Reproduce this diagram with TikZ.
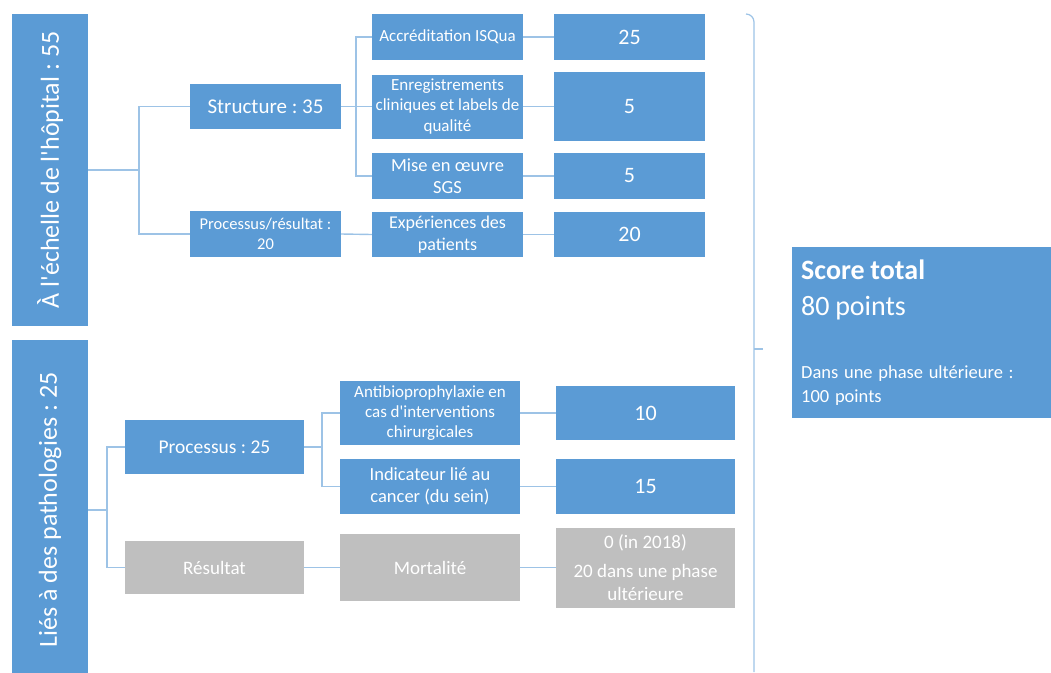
\documentclass[tikz,border=0pt]{standalone}
\usepackage{fontspec}
\setmainfont{Carlito}
\frenchspacing
\definecolor{bluebox}{HTML}{5B9BD5}
\definecolor{graybox}{HTML}{BFBFBF}
\definecolor{connc}{HTML}{9DC3E6}
\newcommand{\fs}[1]{\fontsize{#1}{1.2\dimexpr#1pt\relax}\selectfont}
\newcommand{\apo}{\textquotesingle}
\tikzset{
  box/.style={rectangle, fill=bluebox, text=white, align=center, inner sep=1pt, font=\fs{17}},
  graybx/.style={box, fill=graybox},
  conn/.style={draw=connc, line width=1.4pt},
  numbox/.style={box, font=\fs{22}, minimum width=151pt},
  catbox/.style={box, minimum width=151pt},
}
\begin{document}
\begin{tikzpicture}[x=1pt,y=-1pt]
\useasboundingbox (0,0) rectangle (1051,672);
% left category boxes
\node[box, rotate=90, minimum width=312pt, minimum height=76pt, font=\fs{26}] (L1) at (50,170) {À l\apo échelle de l\apo hôpital : 55};
\node[box, rotate=90, minimum width=340pt, minimum height=76pt, font=\fs{26}] (L2) at (50,510) {Liés à des pathologies : 25};
% level 2 (top)
\node[box, minimum width=151pt, minimum height=45pt, font=\fs{21}] (struct) at (265.5,106.5) {Structure : 35};
\node[box, minimum width=151pt, minimum height=46pt, font=\fs{16.5}] (pr) at (265.5,234) {Processus/résultat :\\20};
% level 3 (top)
\node[catbox, minimum height=46pt] (accr) at (447.5,37) {Accréditation ISQua};
\node[catbox, minimum height=64pt] (enr) at (447.5,106.5) {Enregistrements\\cliniques et labels de\\qualité};
\node[catbox, minimum height=46pt, font=\fs{18.5}] (mise) at (447.5,176) {Mise en œuvre\\SGS};
\node[catbox, minimum height=45pt, font=\fs{18}] (exp) at (447.5,234.5) {Expériences des\\patients};
% values (top)
\node[numbox, minimum height=46pt] (v25) at (629.5,37) {25};
\node[numbox, minimum height=69pt] (v5a) at (629.5,106.5) {5};
\node[numbox, minimum height=46pt] (v5b) at (629.5,176) {5};
\node[numbox, minimum height=45pt] (v20) at (629.5,234.5) {20};
% level 2 (bottom)
\node[box, minimum width=179pt, minimum height=54pt, font=\fs{19.5}] (proc) at (214.5,447) {Processus : 25};
\node[graybx, minimum width=179pt, minimum height=53pt, font=\fs{19}] (res) at (214.5,567.5) {Résultat};
% level 3 (bottom)
\node[box, minimum width=180pt, minimum height=64pt] (anti) at (430,413) {Antibioprophylaxie en\\cas d\apo interventions\\chirurgicales};
\node[box, minimum width=180pt, minimum height=55pt, font=\fs{18.5}] (ind) at (430,486.5) {Indicateur lié au\\cancer (du sein)};
\node[graybx, minimum width=180pt, minimum height=67pt, font=\fs{19}] (mort) at (430,567.5) {Mortalité};
% values (bottom)
\node[box, minimum width=179pt, minimum height=54pt, font=\fs{22}] (v10) at (645.5,413) {10};
\node[box, minimum width=179pt, minimum height=55pt, font=\fs{22}] (v15) at (645.5,486.5) {15};
\node[graybx, minimum width=179pt, minimum height=80pt, font=\fs{19}] (vm) at (645.5,567.5) {0 (in 2018)\\[7pt]20 dans une phase\\ultérieure};
% score
\node[box, anchor=north west, text width=241pt, inner xsep=9pt, inner ysep=0pt, minimum height=171pt, align=left] (score) at (792,247)
 {{\fontsize{28}{36}\selectfont\textbf{Score total}\\80 points\par}\vspace{39pt}{\fontsize{18.5}{24}\selectfont Dans une phase ultérieure :\\100 points\par}};
% junctions
\coordinate (j1) at (139,170);
\coordinate (j2) at (107,510);
\coordinate (j3) at (356,106.5);
\coordinate (j4) at (322,447);
\coordinate (btop) at (746,14);
\coordinate (bbot) at (754,672);
\coordinate (btick) at (763,349);
% connectors
\draw[conn] (L1.south) -- (j1);
\draw[conn] (struct.west) -| (j1) |- (pr.west);
\draw[conn] (L2.south) -- (j2);
\draw[conn] (proc.west) -| (j2) |- (res.west);
\draw[conn] (struct.east) -- (j3);
\draw[conn] (accr.west) -| (j3) |- (mise.west);
\draw[conn] (j3) -- (enr.west);
\draw[conn] (pr.east) -- (exp.west);
\draw[conn] (accr.east) -- (v25.west);
\draw[conn] (enr.east) -- (v5a.west);
\draw[conn] (mise.east) -- (v5b.west);
\draw[conn] (exp.east) -- (v20.west);
\draw[conn] (proc.east) -- (j4);
\draw[conn] (anti.west) -| (j4) |- (ind.west);
\draw[conn] (res.east) -- (mort.west);
\draw[conn] (mort.east) -- (vm.west);
\draw[conn] (anti.east) -- (v10.west);
\draw[conn] (ind.east) -- (v15.west);
% brace
\draw[conn, line width=1.2pt] (btop) to[out=0,in=90] (754,22) -- (bbot);
\draw[conn, line width=1.2pt] (754,349) -- (btick);
\end{tikzpicture}
\end{document}
